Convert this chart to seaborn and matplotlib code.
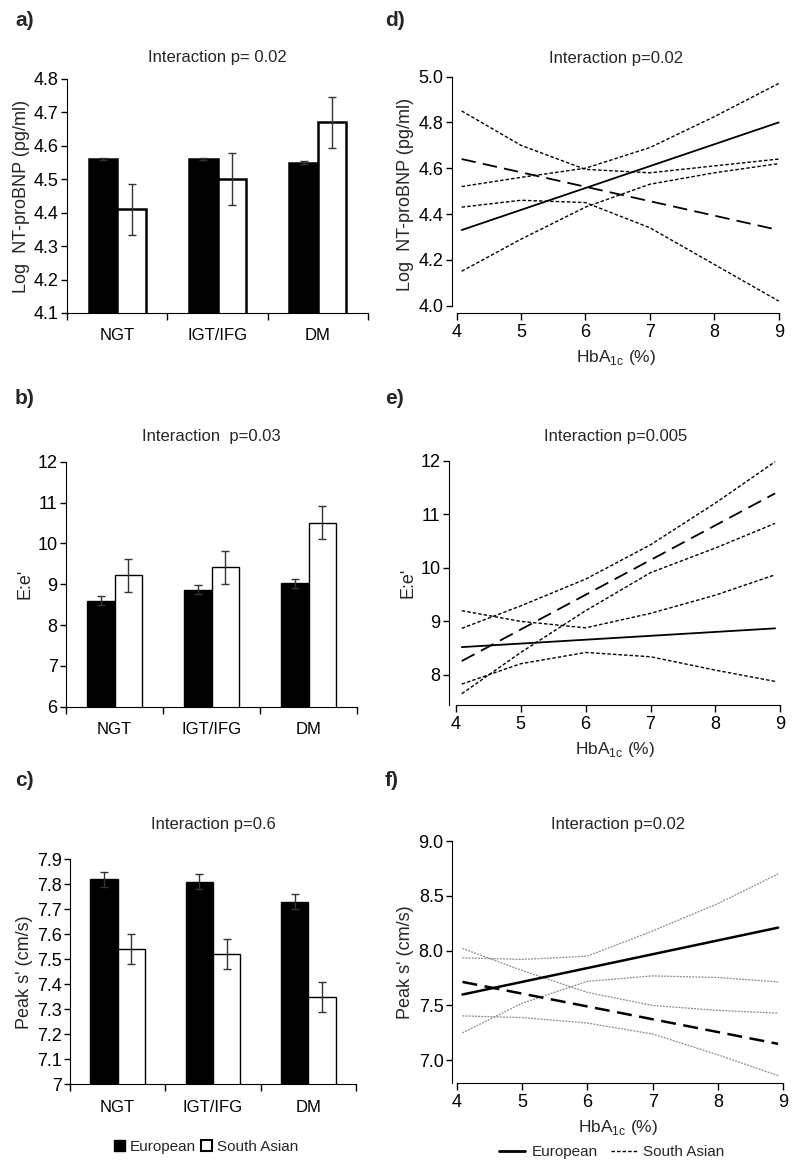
import pandas as pd
import matplotlib
matplotlib.use('Agg')
import matplotlib.pyplot as plt
import seaborn as sns
from matplotlib.patches import Patch
from matplotlib.lines import Line2D
from matplotlib.ticker import FuncFormatter

sns.set_style('ticks')
plt.rcParams['font.family'] = ['Liberation Sans', 'DejaVu Sans']
plt.rcParams['mathtext.fontset'] = 'custom'
plt.rcParams['mathtext.rm'] = 'Liberation Sans'
plt.rcParams['axes.edgecolor'] = 'black'
plt.rcParams['xtick.color'] = 'black'
plt.rcParams['ytick.color'] = 'black'

# bar chart data (means and error bar half-widths)
groups = ['NGT', 'IGT/IFG', 'DM']
ethnic = ['European', 'South Asian']

a_eur = [4.56, 4.56, 4.55]
a_eur_err = [0.003, 0.003, 0.004]
a_sa = [4.41, 4.50, 4.67]
a_sa_err = [0.077, 0.077, 0.076]

b_eur = [8.60, 8.87, 9.02]
b_eur_err = [0.11, 0.11, 0.11]
b_sa = [9.22, 9.41, 10.51]
b_sa_err = [0.41, 0.41, 0.41]

c_eur = [7.82, 7.81, 7.73]
c_eur_err = [0.03, 0.03, 0.03]
c_sa = [7.54, 7.52, 7.35]
c_sa_err = [0.06, 0.06, 0.06]

# line chart data (HbA1c on x)
d_x = [4.08, 5, 6, 7, 8, 9.0]
d_main_x = [4.08, 9.0]
d_eur = [4.33, 4.80]
d_sa = [4.64, 4.33]
d_eur_lo = [4.15, 4.29, 4.43, 4.53, 4.58, 4.62]
d_eur_hi = [4.52, 4.56, 4.60, 4.69, 4.825, 4.97]
d_sa_lo = [4.43, 4.46, 4.45, 4.34, 4.18, 4.02]
d_sa_hi = [4.85, 4.70, 4.595, 4.58, 4.61, 4.64]

e_x = [4.09, 5, 6, 7, 8, 8.92]
e_main_x = [4.09, 8.92]
e_eur = [8.52, 8.87]
e_sa = [8.26, 11.39]
e_eur_lo = [7.83, 8.21, 8.42, 8.34, 8.09, 7.88]
e_eur_hi = [9.20, 9.00, 8.88, 9.15, 9.49, 9.87]
e_sa_lo = [7.65, 8.42, 9.20, 9.91, 10.37, 10.83]
e_sa_hi = [8.87, 9.29, 9.79, 10.43, 11.21, 11.98]

f_x = [4.09, 5, 6, 7, 8, 8.92]
f_main_x = [4.09, 8.92]
f_eur = [7.60, 8.21]
f_sa = [7.715, 7.15]
f_eur_lo = [7.25, 7.52, 7.72, 7.77, 7.755, 7.715]
f_eur_hi = [7.935, 7.92, 7.95, 8.18, 8.43, 8.70]
f_sa_lo = [7.405, 7.39, 7.34, 7.24, 7.05, 6.86]
f_sa_hi = [8.02, 7.82, 7.62, 7.50, 7.455, 7.43]


def bar_panel(ax, eur, eur_err, sa, sa_err, ylim, yticks, ylabel, title, pad, edge_lw):
    df = pd.DataFrame({'group': groups * 2,
                       'ethnicity': [ethnic[0]] * 3 + [ethnic[1]] * 3,
                       'value': eur + sa})
    sns.barplot(data=df, x='group', y='value', hue='ethnicity',
                palette={'European': 'black', 'South Asian': 'white'},
                edgecolor='black', linewidth=edge_lw, width=0.57, gap=0,
                errorbar=None, legend=False, ax=ax)
    bars = sorted(ax.patches, key=lambda p: p.get_x())
    centers = [p.get_x() + p.get_width() / 2 for p in bars]
    means = [v for pair in zip(eur, sa) for v in pair]
    errs = [v for pair in zip(eur_err, sa_err) for v in pair]
    ax.errorbar(centers, means, yerr=errs, fmt='none', ecolor='#333333',
                elinewidth=1, capsize=3, capthick=1, zorder=5)
    ax.set_ylim(*ylim)
    ax.set_yticks(yticks)
    ax.yaxis.set_major_formatter(FuncFormatter(lambda v, _: f'{v:g}'))
    ax.set_xlim(-0.5, 2.5)
    ax.set_xticks([-0.5, 0.5, 1.5, 2.5])
    ax.set_xticklabels([])
    ax.set_xticks([0, 1, 2], minor=True)
    ax.set_xticklabels(groups, minor=True)
    ax.tick_params(axis='x', which='major', length=5, width=1)
    ax.tick_params(axis='x', which='minor', length=0, labelsize=12, pad=11)
    ax.tick_params(axis='y', length=4, width=1, labelsize=13, pad=2)
    ax.set_xlabel('')
    ax.set_ylabel(ylabel, fontsize=13, labelpad=3)
    ax.set_title(title, fontsize=12, pad=pad)
    sns.despine(ax=ax)


def line_panel(ax, x, main_x, eur, sa, cis, ylim, yticks, fmt, ylabel, title, pad,
               ybound=None, ci_color='black', ci_lw=1.0, ci_dash=(2.5, 1.5),
               main_lw=1.3, sa_dash=(8, 4), xlim=(3.93, 9.02)):
    for ci in cis:
        sns.lineplot(x=x, y=ci, color=ci_color, linewidth=ci_lw,
                     linestyle=(0, ci_dash), estimator=None, ax=ax)
    sns.lineplot(x=main_x, y=sa, color='black', linewidth=main_lw,
                 linestyle=(0, sa_dash), estimator=None, ax=ax)
    sns.lineplot(x=main_x, y=eur, color='black', linewidth=main_lw,
                 estimator=None, ax=ax)
    ax.set_xlim(*xlim)
    ax.set_ylim(*ylim)
    ax.set_xticks([4, 5, 6, 7, 8, 9])
    ax.set_yticks(yticks)
    ax.yaxis.set_major_formatter(FuncFormatter(lambda v, _: fmt.format(v)))
    ax.spines['bottom'].set_bounds(4, 9)
    if ybound is not None:
        ax.spines['left'].set_bounds(*ybound)
    ax.tick_params(axis='x', length=5, width=1, labelsize=13, pad=3)
    ax.tick_params(axis='y', length=4, width=1, labelsize=13, pad=2)
    ax.set_xlabel('HbA$_{\\mathregular{1c}}$ (%)', fontsize=12.5, labelpad=5)
    ax.set_ylabel(ylabel, fontsize=13, labelpad=3)
    ax.set_title(title, fontsize=12, pad=pad)
    sns.despine(ax=ax)


fig = plt.figure(figsize=(8, 11.66), dpi=100)

ax_a = fig.add_axes([0.084, 0.7316, 0.376, 0.2007])
ax_b = fig.add_axes([0.0825, 0.3939, 0.364, 0.2101])
ax_c = fig.add_axes([0.0875, 0.0701, 0.3575, 0.193])
ax_d = fig.add_axes([0.565, 0.7316, 0.41, 0.2027])
ax_e = fig.add_axes([0.561, 0.3954, 0.416, 0.2095])
ax_f = fig.add_axes([0.565, 0.0709, 0.4158, 0.2078])

bar_panel(ax_a, a_eur, a_eur_err, a_sa, a_sa_err, (4.1, 4.8),
          [4.1, 4.2, 4.3, 4.4, 4.5, 4.6, 4.7, 4.8],
          'Log  NT-proBNP (pg/ml)', 'Interaction p= 0.02', 12, 1.8)
bar_panel(ax_b, b_eur, b_eur_err, b_sa, b_sa_err, (6, 12),
          [6, 7, 8, 9, 10, 11, 12], "E:e'", 'Interaction  p=0.03', 15, 1.0)
bar_panel(ax_c, c_eur, c_eur_err, c_sa, c_sa_err, (7, 7.9),
          [7, 7.1, 7.2, 7.3, 7.4, 7.5, 7.6, 7.7, 7.8, 7.9],
          "Peak s' (cm/s)", 'Interaction p=0.6', 22, 1.0)

line_panel(ax_d, d_x, d_main_x, d_eur, d_sa,
           [d_eur_lo, d_eur_hi, d_sa_lo, d_sa_hi],
           (3.968, 5.0), [4.0, 4.2, 4.4, 4.6, 4.8, 5.0], '{:.1f}',
           'Log  NT-proBNP (pg/ml)', 'Interaction p=0.02', 10,
           ybound=(4.0, 5.0), xlim=(3.93, 9.02))
line_panel(ax_e, e_x, e_main_x, e_eur, e_sa,
           [e_eur_lo, e_eur_hi, e_sa_lo, e_sa_hi],
           (7.44, 12), [8, 9, 10, 11, 12], '{:g}',
           "E:e'", 'Interaction p=0.005', 14, xlim=(3.89, 9.02))
line_panel(ax_f, f_x, f_main_x, f_eur, f_sa,
           [f_eur_lo, f_eur_hi, f_sa_lo, f_sa_hi],
           (6.79, 9.0), [7.0, 7.5, 8.0, 8.5, 9.0], '{:.1f}',
           "Peak s' (cm/s)", 'Interaction p=0.02', 9,
           ci_color='#8a8a8a', ci_lw=0.9, ci_dash=(1.5, 1.0),
           main_lw=1.8, sa_dash=(6, 3), xlim=(3.93, 9.02))

# panel letters
for lab, x, y in [('a)', 15, 21), ('b)', 15, 398), ('c)', 15, 780),
                  ('d)', 385, 21), ('e)', 385, 398), ('f)', 385, 780)]:
    fig.text(x / 800, 1 - y / 1166, lab, fontsize=15, fontweight='bold', va='center')

# legends
bar_handles = [Patch(facecolor='black', edgecolor='black'),
               Patch(facecolor='white', edgecolor='black', linewidth=1.5)]
fig.legend(bar_handles, ethnic, loc='center', bbox_to_anchor=(206 / 800, 1 - 1147 / 1166),
           ncol=2, frameon=False, fontsize=11, handlelength=0.7, handleheight=0.7,
           handletextpad=0.3, columnspacing=0.4)

line_handles = [Line2D([], [], color='black', linewidth=2),
                Line2D([], [], color='black', linewidth=1, linestyle=(0, (2.5, 1.5)))]
fig.legend(line_handles, ethnic, loc='center', bbox_to_anchor=(612 / 800, 1 - 1152 / 1166),
           ncol=2, frameon=False, fontsize=11, handlelength=1.7,
           handletextpad=0.4, columnspacing=0.9)

fig.savefig('out.png', dpi=100)
